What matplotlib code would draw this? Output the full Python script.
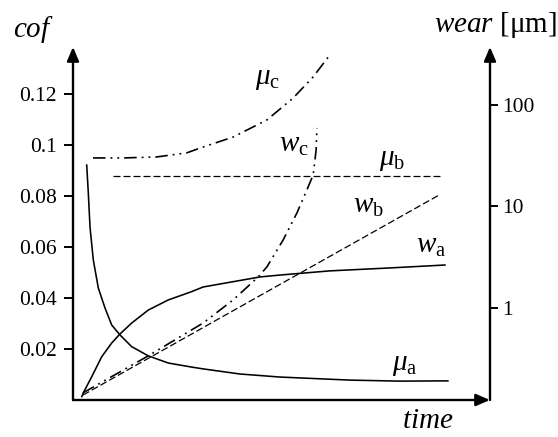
import numpy as np
import matplotlib
matplotlib.use("Agg")
import matplotlib.pyplot as plt

plt.rcParams['font.family'] = ['Liberation Serif', 'DejaVu Serif']
plt.rcParams['mathtext.fontset'] = 'custom'
plt.rcParams['mathtext.rm'] = 'Liberation Serif'
plt.rcParams['mathtext.it'] = 'Liberation Serif:italic'
plt.rcParams['mathtext.bf'] = 'Liberation Serif:bold'

# ---- data (time in arbitrary units 0..100) ----
mu_a_t = [3.29, 3.67, 4.08, 4.87, 6.07, 7.67, 9.28, 11.27, 14.08, 18.06, 22.85, 28.47,
          31.2, 40.0, 49.6, 66.4, 78.4, 89.9]
mu_a_v = [0.0921, 0.0812, 0.0678, 0.0549, 0.0439, 0.0361, 0.0294, 0.0255, 0.0209, 0.0173,
          0.0145, 0.0129, 0.0122, 0.0102, 0.0090, 0.0078, 0.0074, 0.0075]

mu_b_t = [9.6, 88.0]
mu_b_v = [0.0878, 0.0878]

mu_c_t = [4.8, 12.0, 20.1, 27.3, 30.5, 38.4, 46.5, 52.8, 57.6, 61.6]
mu_c_v = [0.0949, 0.0949, 0.0953, 0.0969, 0.0988, 0.1031, 0.1098, 0.1184, 0.1267, 0.1353]

w_a_t = [2.1, 2.47, 4.48, 6.88, 9.28, 11.27, 14.08, 18.06, 22.85, 28.47, 31.2, 44.8, 49.6,
         61.6, 76.0, 89.2]
w_a_v = [0.134, 0.146, 0.210, 0.331, 0.452, 0.555, 0.711, 0.955, 1.20, 1.45, 1.61, 2.02, 2.11,
         2.32, 2.48, 2.65]

w_b_t = [2.4, 88.0]
w_b_v = [0.139, 13.1]

w_c_t = [2.4, 18.0, 31.2, 38.4, 44.4, 46.5, 50.4, 53.7, 56.1, 57.6, 58.3, 58.5]
w_c_v = [0.146, 0.337, 0.711, 1.20, 2.02, 2.54, 4.68, 8.63, 14.6, 20.4, 36.0, 59.3]

cof_ticks = [0.02, 0.04, 0.06, 0.08, 0.1, 0.12]
cof_tick_labels = ['0.02', '0.04', '0.06', '0.08', '0.1', '0.12']
wear_ticks = [1, 10, 100]
wear_tick_labels = ['1', '10', '100']

fig = plt.figure(figsize=(5.58, 4.37), dpi=100)
ax = fig.add_axes([73/558, 37/437, 417/558, 353/437])
ax.set_xlim(0, 100)
ax.set_ylim(0, 0.1384)
ax2 = ax.twinx()
ax2.set_yscale('log')
ax2.set_ylim(10**-0.906, 10**2.57)

for a in (ax, ax2):
    for s in a.spines.values():
        s.set_visible(False)
    a.patch.set_visible(False)

ax.set_xticks([])
ax.set_yticks(cof_ticks)
ax.set_yticklabels(cof_tick_labels)
ax.tick_params(axis='y', direction='out', length=6.5, width=1.4, pad=5, labelsize=15.5)
ax2.set_yticks(wear_ticks)
ax2.set_yticklabels(wear_tick_labels)
ax2.yaxis.set_minor_locator(matplotlib.ticker.NullLocator())
ax2.tick_params(axis='y', direction='out', length=6, width=1.4, pad=3, labelsize=15.5)

arrow = dict(arrowstyle='-|>,head_length=0.7,head_width=0.3', lw=1.7, color='black',
             shrinkA=0, shrinkB=0, mutation_scale=12)
ax.annotate('', xy=(0, 1), xytext=(0, 0), xycoords='axes fraction', arrowprops=arrow, annotation_clip=False)
ax.annotate('', xy=(1, 0), xytext=(0, 0), xycoords='axes fraction', arrowprops=arrow, annotation_clip=False)
ax.annotate('', xy=(1, 1), xytext=(1, 0), xycoords='axes fraction', arrowprops=arrow, annotation_clip=False)

lw = 1.15
dashdotdot = (0, (7.5, 3, 1.1, 3, 1.1, 3))
dashed = (0, (5.6, 2.4))
ax.plot(mu_a_t, mu_a_v, color='black', lw=lw)
ax.plot(mu_b_t, mu_b_v, color='black', lw=0.9, linestyle=dashed)
ax.plot(mu_c_t, mu_c_v, color='black', lw=1.2, linestyle=dashdotdot)
ax2.plot(w_a_t, w_a_v, color='black', lw=lw)
ax2.plot(w_b_t, w_b_v, color='black', lw=0.9, linestyle=dashed)
ax2.plot(w_c_t, w_c_v, color='black', lw=1.2, linestyle=dashdotdot)

fs = 21
def lab(x, y, s):
    fig.text(x/558, 1 - y/437, s, fontsize=fs, ha='left', va='baseline')

lab(255, 84, r'$\mu_{\mathrm{c}}$')
lab(279, 152, r'$w_{\mathrm{c}}$')
lab(379, 165, r'$\mu_{\mathrm{b}}$')
lab(353, 213, r'$w_{\mathrm{b}}$')
lab(416, 253, r'$w_{\mathrm{a}}$')
lab(392, 370, r'$\mu_{\mathrm{a}}$')

fig.text(13/558, 1 - 37/437, r'$cof$', fontsize=fs, ha='left', va='baseline')
fig.text(557/558, 1 - 32/437, r'$wear$ [μm]', fontsize=fs, ha='right', va='baseline')
fig.text(402/558, 1 - 428/437, r'$time$', fontsize=fs, ha='left', va='baseline')

fig.savefig('out.png', dpi=100)
